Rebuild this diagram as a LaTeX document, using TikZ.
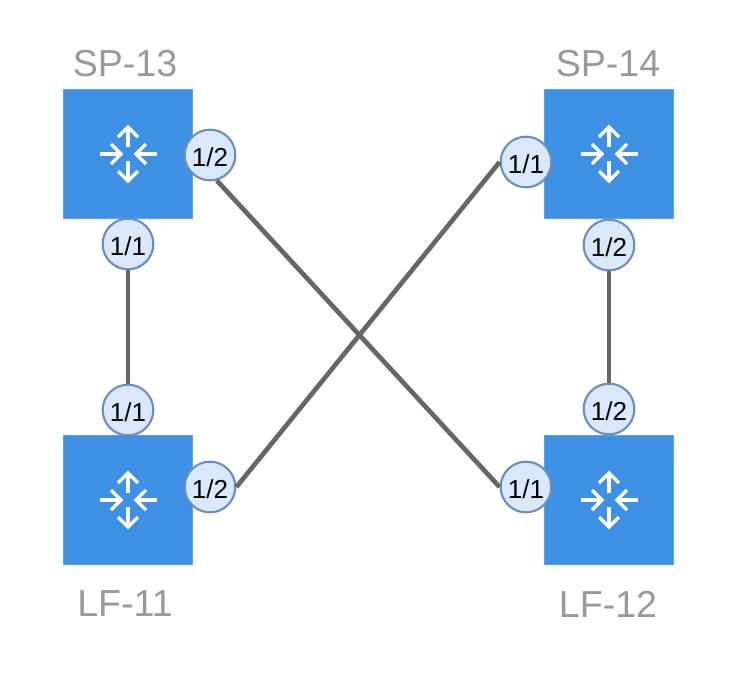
\documentclass[tikz,border=0pt]{standalone}
\usepackage{fontspec}
\setmainfont{Liberation Sans}
\definecolor{routerblue}{HTML}{3D90E3}
\definecolor{portfill}{HTML}{DAE8FC}
\definecolor{portline}{HTML}{6C8EBF}
\definecolor{linkgray}{HTML}{666666}
\definecolor{namegray}{HTML}{999999}
\tikzset{
  router/.style={draw=routerblue!85!white,fill=routerblue,line width=0.75pt,minimum size=96.75pt,inner sep=0pt},
  port/.style={circle,draw=portline,fill=portfill,line width=1.6pt,minimum size=38pt,inner sep=0pt,text height=17.5pt,text depth=0pt,font=\fontsize{19.5}{21}\selectfont},
  devname/.style={text=namegray,font=\fontsize{28.2}{30}\selectfont,inner sep=0pt},
  link/.style={draw=linkgray,line width=3.5pt},
  arrowmark/.style={draw=white,line width=2.6pt},
  pics/routericon/.style={code={
    \draw[arrowmark] (0,-7) -- (0,-27);
    \draw[arrowmark] (-10,-17) -- (0,-27) -- (10,-17);
    \draw[arrowmark] (0,7) -- (0,27);
    \draw[arrowmark] (-10,17) -- (0,27) -- (10,17);
    \draw[arrowmark] (-28,0) -- (-7,0);
    \draw[arrowmark] (-17,-10) -- (-7,0) -- (-17,10);
    \draw[arrowmark] (29,0) -- (8,0);
    \draw[arrowmark] (18,-10) -- (8,0) -- (18,10);
  }}
}
\begin{document}
\begin{tikzpicture}[x=0.75pt,y=-0.75pt]
\useasboundingbox (0,0) rectangle (736,676);
% switches
\node[router] (sp13) at (128,154) {};
\node[router] (sp14) at (609,154) {};
\node[router] (lf11) at (128,500) {};
\node[router] (lf12) at (609,500) {};
\pic at (128,154) {routericon};
\pic at (609,154) {routericon};
\pic at (128,500) {routericon};
\pic at (609,500) {routericon};
% names
\node[devname] (sp13name) at (125,64) {SP-13};
\node[devname] (sp14name) at (608,64) {SP-14};
\node[devname] (lf11name) at (125,604) {LF-11};
\node[devname] (lf12name) at (608,604) {LF-12};
% ports
\node[port] (sp13p1) at (128,244) {1/1};
\node[port] (sp13p2) at (210,155) {1/2};
\node[port] (sp14p1) at (526,162) {1/1};
\node[port] (sp14p2) at (609,245) {1/2};
\node[port] (lf11p1) at (128,410) {1/1};
\node[port] (lf11p2) at (210,487) {1/2};
\node[port] (lf12p1) at (526,487) {1/1};
\node[port] (lf12p2) at (609,409) {1/2};
% links
\draw[link] (sp13p1) -- (lf11p1);
\draw[link] (sp14p2) -- (lf12p2);
\draw[link] (sp13p2.-75) -- (lf12p1.west);
\draw[link] (sp14p1.west) -- (lf11p2.east);
\end{tikzpicture}
\end{document}
